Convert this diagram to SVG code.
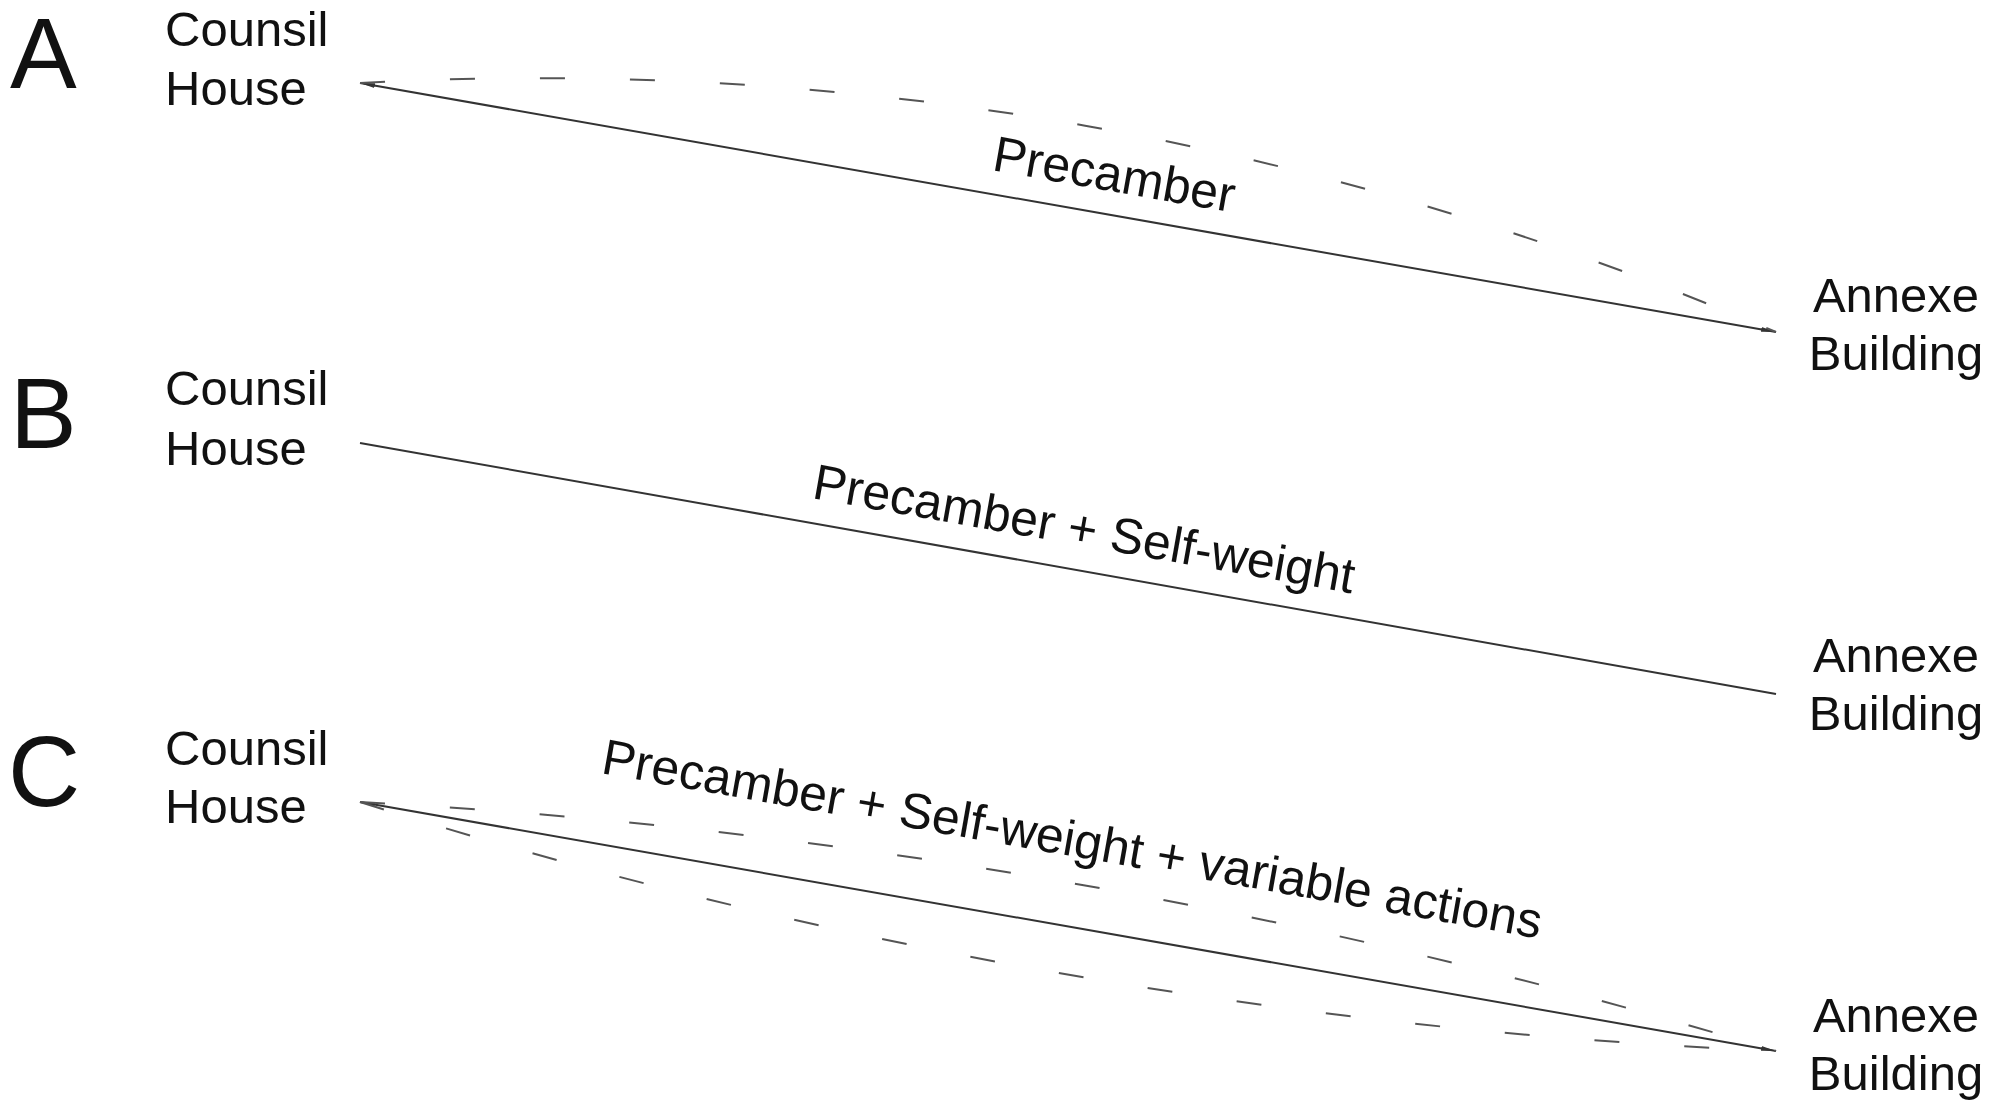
<svg xmlns="http://www.w3.org/2000/svg" width="2003" height="1105" viewBox="0 0 2003 1105">
<style>
text{font-family:"Liberation Sans",Arial,sans-serif;fill:#111}
.big{font-size:100px}
.lbl{font-size:49px}
.rot{font-size:50px}
.end{font-size:49px;text-anchor:middle}
.beam{fill:none;stroke:#333;stroke-width:2}
.defl{fill:none;stroke:#555;stroke-width:2;stroke-dasharray:25 65}
</style>
<defs>
<marker id="tip" markerUnits="userSpaceOnUse" markerWidth="16" markerHeight="8" refX="15" refY="4" orient="auto-start-reverse">
<path d="M0,1.5 L15,4 L0,6.5 Z" fill="#333"/>
</marker>
</defs>
<rect width="2003" height="1105" fill="#fff"/>

<g id="panel-A">
<text class="big" x="10" y="88">A</text>
<g id="A-counsil"><text class="lbl" x="165" y="46">Counsil</text><text class="lbl" x="165" y="105">House</text></g>
<g id="A-annexe"><text class="end" x="1896" y="312">Annexe</text><text class="end" x="1896" y="370">Building</text></g>
<text class="rot" transform="translate(991,170) rotate(10)">Precamber</text>
</g>

<g id="panel-B">
<text class="big" x="10" y="448">B</text>
<g id="B-counsil"><text class="lbl" x="165" y="405">Counsil</text><text class="lbl" x="165" y="465">House</text></g>
<g id="B-annexe"><text class="end" x="1896" y="672">Annexe</text><text class="end" x="1896" y="730">Building</text></g>
<text class="rot" transform="translate(811,498) rotate(10)">Precamber + Self-weight</text>
</g>

<g id="panel-C">
<text class="big" x="8" y="806">C</text>
<g id="C-counsil"><text class="lbl" x="165" y="765">Counsil</text><text class="lbl" x="165" y="823">House</text></g>
<g id="C-annexe"><text class="end" x="1896" y="1032">Annexe</text><text class="end" x="1896" y="1090">Building</text></g>
<text class="rot" transform="translate(600,773) rotate(10)">Precamber + Self-weight + variable actions</text>
</g>

<g id="connectors">
<line class="beam" x1="360" y1="83" x2="1776" y2="332" marker-start="url(#tip)" marker-end="url(#tip)"/>
<path class="defl" d="M360,83 Q1097,43 1776,332"/>
<line class="beam" x1="360" y1="443" x2="1776" y2="694"/>
<line class="beam" x1="360" y1="802" x2="1776" y2="1051" marker-start="url(#tip)" marker-end="url(#tip)"/>
<path class="defl" d="M360,802 Q1083,841 1776,1051"/>
<path class="defl" d="M360,802 Q1052,1020 1776,1051"/>
</g>
</svg>
